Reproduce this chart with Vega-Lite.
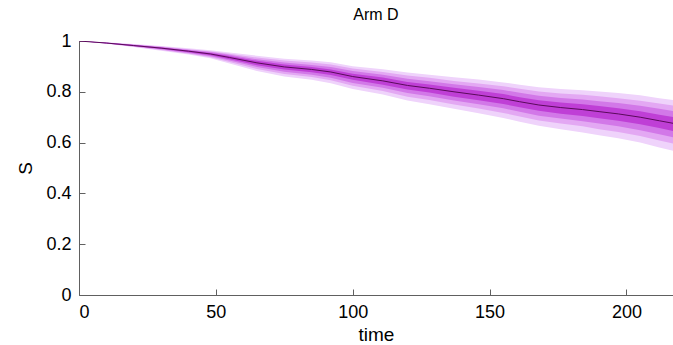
{
  "$schema": "https://vega.github.io/schema/vega-lite/v6.json",
  "width": 594,
  "height": 254,
  "autosize": {"type": "none"},
  "padding": {"left": 79, "top": 41, "right": 0, "bottom": 50},
  "title": {"text": "Arm D", "fontSize": 16, "font": "Liberation Sans", "fontWeight": "normal", "color": "#000000", "offset": 9},
  "config": {
    "view": {"stroke": null},
    "axis": {"labelFont": "Liberation Sans", "titleFont": "Liberation Sans", "labelFontSize": 18, "titleFontSize": 19, "titleFontWeight": "normal", "labelColor": "#000000", "titleColor": "#000000", "domainColor": "#606060", "tickColor": "#606060", "grid": false, "tickSize": -6, "format": "~f"}
  },
  "data": {"values": [
    {"t": 0, "s": 1.000, "u1": 1.000, "l1": 1.000, "u2": 1.000, "l2": 1.000, "u3": 1.000, "l3": 1.000, "u4": 1.000, "l4": 1.000},
    {"t": 10, "s": 0.992, "u1": 0.995, "l1": 0.989, "u2": 0.994, "l2": 0.990, "u3": 0.993, "l3": 0.990, "u4": 0.993, "l4": 0.991},
    {"t": 20, "s": 0.982, "u1": 0.988, "l1": 0.976, "u2": 0.986, "l2": 0.977, "u3": 0.985, "l3": 0.979, "u4": 0.984, "l4": 0.980},
    {"t": 30, "s": 0.972, "u1": 0.980, "l1": 0.962, "u2": 0.978, "l2": 0.965, "u3": 0.976, "l3": 0.967, "u4": 0.974, "l4": 0.969},
    {"t": 40, "s": 0.960, "u1": 0.971, "l1": 0.947, "u2": 0.968, "l2": 0.950, "u3": 0.966, "l3": 0.953, "u4": 0.963, "l4": 0.956},
    {"t": 48, "s": 0.949, "u1": 0.964, "l1": 0.932, "u2": 0.960, "l2": 0.936, "u3": 0.957, "l3": 0.940, "u4": 0.953, "l4": 0.944},
    {"t": 55, "s": 0.935, "u1": 0.955, "l1": 0.911, "u2": 0.950, "l2": 0.917, "u3": 0.946, "l3": 0.923, "u4": 0.941, "l4": 0.928},
    {"t": 65, "s": 0.914, "u1": 0.942, "l1": 0.882, "u2": 0.935, "l2": 0.890, "u3": 0.928, "l3": 0.898, "u4": 0.922, "l4": 0.905},
    {"t": 75, "s": 0.898, "u1": 0.930, "l1": 0.860, "u2": 0.923, "l2": 0.870, "u3": 0.915, "l3": 0.879, "u4": 0.907, "l4": 0.888},
    {"t": 85, "s": 0.888, "u1": 0.923, "l1": 0.847, "u2": 0.915, "l2": 0.858, "u3": 0.906, "l3": 0.867, "u4": 0.898, "l4": 0.877},
    {"t": 92, "s": 0.878, "u1": 0.916, "l1": 0.834, "u2": 0.907, "l2": 0.845, "u3": 0.898, "l3": 0.855, "u4": 0.888, "l4": 0.866},
    {"t": 100, "s": 0.860, "u1": 0.901, "l1": 0.811, "u2": 0.892, "l2": 0.824, "u3": 0.882, "l3": 0.835, "u4": 0.871, "l4": 0.847},
    {"t": 111, "s": 0.843, "u1": 0.889, "l1": 0.789, "u2": 0.878, "l2": 0.803, "u3": 0.867, "l3": 0.816, "u4": 0.856, "l4": 0.828},
    {"t": 120, "s": 0.825, "u1": 0.876, "l1": 0.766, "u2": 0.864, "l2": 0.781, "u3": 0.851, "l3": 0.795, "u4": 0.839, "l4": 0.809},
    {"t": 128, "s": 0.814, "u1": 0.867, "l1": 0.751, "u2": 0.855, "l2": 0.768, "u3": 0.842, "l3": 0.782, "u4": 0.829, "l4": 0.797},
    {"t": 137, "s": 0.800, "u1": 0.857, "l1": 0.733, "u2": 0.843, "l2": 0.750, "u3": 0.830, "l3": 0.766, "u4": 0.816, "l4": 0.781},
    {"t": 146, "s": 0.787, "u1": 0.848, "l1": 0.716, "u2": 0.833, "l2": 0.734, "u3": 0.819, "l3": 0.751, "u4": 0.804, "l4": 0.767},
    {"t": 155, "s": 0.773, "u1": 0.837, "l1": 0.697, "u2": 0.822, "l2": 0.717, "u3": 0.807, "l3": 0.735, "u4": 0.791, "l4": 0.752},
    {"t": 161, "s": 0.761, "u1": 0.828, "l1": 0.682, "u2": 0.812, "l2": 0.703, "u3": 0.796, "l3": 0.721, "u4": 0.779, "l4": 0.739},
    {"t": 168, "s": 0.748, "u1": 0.818, "l1": 0.666, "u2": 0.801, "l2": 0.687, "u3": 0.784, "l3": 0.706, "u4": 0.767, "l4": 0.725},
    {"t": 176, "s": 0.738, "u1": 0.811, "l1": 0.653, "u2": 0.793, "l2": 0.675, "u3": 0.776, "l3": 0.695, "u4": 0.758, "l4": 0.714},
    {"t": 184, "s": 0.730, "u1": 0.806, "l1": 0.640, "u2": 0.788, "l2": 0.664, "u3": 0.770, "l3": 0.684, "u4": 0.751, "l4": 0.705},
    {"t": 190, "s": 0.722, "u1": 0.801, "l1": 0.629, "u2": 0.782, "l2": 0.653, "u3": 0.763, "l3": 0.675, "u4": 0.744, "l4": 0.696},
    {"t": 197, "s": 0.713, "u1": 0.795, "l1": 0.617, "u2": 0.775, "l2": 0.642, "u3": 0.756, "l3": 0.664, "u4": 0.735, "l4": 0.686},
    {"t": 205, "s": 0.700, "u1": 0.786, "l1": 0.600, "u2": 0.765, "l2": 0.626, "u3": 0.745, "l3": 0.649, "u4": 0.723, "l4": 0.672},
    {"t": 212, "s": 0.686, "u1": 0.775, "l1": 0.581, "u2": 0.754, "l2": 0.608, "u3": 0.733, "l3": 0.633, "u4": 0.710, "l4": 0.657},
    {"t": 217, "s": 0.676, "u1": 0.768, "l1": 0.568, "u2": 0.746, "l2": 0.596, "u3": 0.724, "l3": 0.621, "u4": 0.701, "l4": 0.646}
  ]},
  "encoding": {
    "x": {"field": "t", "type": "quantitative", "scale": {"domain": [0, 217], "nice": false, "zero": false}, "axis": {"title": "time", "values": [0, 50, 100, 150, 200], "labelPadding": 14, "titlePadding": 4}}
  },
  "layer": [
    {"mark": {"type": "area", "color": "#efd3fb", "opacity": 1, "clip": true},
     "encoding": {"y": {"field": "u1", "type": "quantitative", "scale": {"domain": [0, 1], "nice": false}, "axis": {"title": "S", "values": [0, 0.2, 0.4, 0.6, 0.8, 1], "labelPadding": 14, "titlePadding": 10}}, "y2": {"field": "l1"}}},
    {"mark": {"type": "area", "color": "#e3a8f3", "opacity": 1, "clip": true},
     "encoding": {"y": {"field": "u2", "type": "quantitative"}, "y2": {"field": "l2"}}},
    {"mark": {"type": "area", "color": "#d278e8", "opacity": 1, "clip": true},
     "encoding": {"y": {"field": "u3", "type": "quantitative"}, "y2": {"field": "l3"}}},
    {"mark": {"type": "area", "color": "#bf3fd6", "opacity": 1, "clip": true},
     "encoding": {"y": {"field": "u4", "type": "quantitative"}, "y2": {"field": "l4"}}},
    {"mark": {"type": "line", "color": "#5a0a5a", "strokeWidth": 1, "clip": true},
     "encoding": {"y": {"field": "s", "type": "quantitative"}}}
  ]
}
